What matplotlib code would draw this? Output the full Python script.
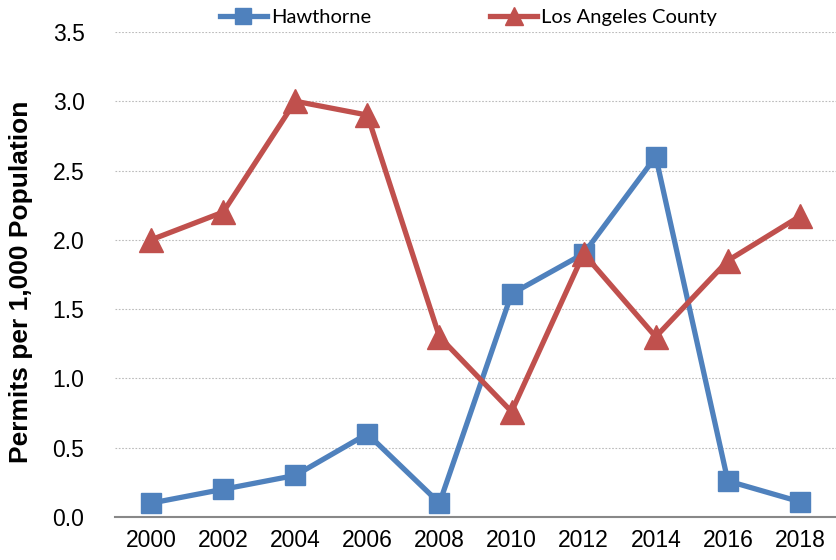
import numpy as np
import matplotlib
matplotlib.use("Agg")
import matplotlib.pyplot as plt

years = [2000, 2002, 2004, 2006, 2008, 2010, 2012, 2014, 2016, 2018]
hawthorne = [0.1, 0.2, 0.3, 0.6, 0.1, 1.61, 1.9, 2.6, 0.26, 0.11]
la_county = [2.0, 2.2, 3.0, 2.9, 1.3, 0.76, 1.9, 1.3, 1.85, 2.17]
y_ticks = [0.0, 0.5, 1.0, 1.5, 2.0, 2.5, 3.0, 3.5]

plt.rcParams['font.family'] = ['Liberation Sans', 'DejaVu Sans']

fig = plt.figure(figsize=(8.36, 5.6), dpi=100)
ax = fig.add_axes([0.1376, 0.0768, 0.8624, 0.8662])

ax.plot(years, hawthorne, color="#4F81BD", lw=3.8, marker="s", ms=15,
        label="Hawthorne", zorder=3)
ax.plot(years, la_county, color="#C0504D", lw=3.8, marker="^", ms=17,
        label="Los Angeles County", zorder=3)

ax.set_xlim(1999, 2019)
ax.set_ylim(0, 3.5)
ax.set_xticks(years)
ax.set_yticks(y_ticks)
ax.set_yticklabels([f"{v:.1f}" for v in y_ticks])
ax.tick_params(axis="both", length=0, labelsize=16.5, pad=9)
ax.tick_params(axis="y", pad=22)

ax.grid(axis="y", color="#BBBBBB", linestyle=(0, (1.5, 1.5)), lw=0.8)
ax.set_axisbelow(True)
for s in ["top", "right", "left"]:
    ax.spines[s].set_visible(False)
ax.spines["bottom"].set_color("#888888")
ax.spines["bottom"].set_linewidth(1.5)

ax.set_ylabel("Permits per 1,000 Population", fontsize=19, fontweight="bold",
              labelpad=14, y=0.485)

leg = ax.legend(loc="upper center", bbox_to_anchor=(0.49, 1.085), ncol=2,
                frameon=False, handlelength=2.35,
                columnspacing=5.9, handletextpad=0.2, markerscale=0.8,
                prop={"family": ["Lato", "DejaVu Sans"], "size": 14.5})

fig.savefig("out.png", dpi=100)
